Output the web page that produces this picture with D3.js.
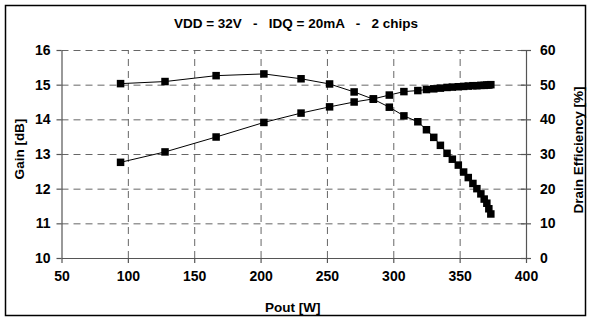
<!DOCTYPE html>
<html>
<head>
<meta charset="utf-8">
<script src="https://cdn.jsdelivr.net/npm/d3@7"></script>
<style>
  body { margin: 0; background: #fff; }
  text { font-family: Arial, 'Liberation Sans', sans-serif; font-weight: bold; fill: #000; }
  .grid line { stroke: #666; stroke-dasharray: 7,5; }
  .grid .domain { display: none; }
  .axis .domain, .axis line { stroke: #555; stroke-width: 1.2; }
</style>
</head>
<body>
<svg width="592" height="322"></svg>
<script>
// measured points (Pout in W, gain in dB, drain efficiency in %)
const pout = [94.5, 128, 166.5, 202.5, 230.5, 252, 270.5, 285, 297, 308, 318.5, 325, 330.5, 335.5,
  340.5, 344.5, 349, 353, 356.5, 360, 363, 366, 368.5, 370.5, 372, 373.5]
const gain = [15.03, 15.09, 15.26, 15.31, 15.17, 15.02, 14.79, 14.58, 14.35, 14.1, 13.93, 13.7, 13.48, 13.25,
  13.02, 12.85, 12.68, 12.48, 12.32, 12.15, 12.0, 11.85, 11.7, 11.58, 11.42, 11.27]
const eff = [27.6, 30.6, 34.9, 39.1, 41.8, 43.6, 45.0, 45.9, 47.0, 48.0, 48.3, 48.6, 48.8, 49.0,
  49.2, 49.3, 49.4, 49.5, 49.6, 49.7, 49.7, 49.8, 49.8, 49.9, 49.9, 50.0]

const xTicks = [50, 100, 150, 200, 250, 300, 350, 400]
const gainTicks = [10, 11, 12, 13, 14, 15, 16]
const effTicks = [0, 10, 20, 30, 40, 50, 60]

let svg = d3.select('svg')
let margin = {top: 50, left: 61.5, right: 66, bottom: 64}
let width = 592 - margin.left - margin.right
let height = 322 - margin.top - margin.bottom

// outer frame
svg.append('rect')
  .attr('x', 5.5).attr('y', 5.5)
  .attr('width', 580).attr('height', 310)
  .attr('fill', 'none').attr('stroke', '#000').attr('stroke-width', 1.5)

svg.append('text')
  .attr('x', 296).attr('y', 28)
  .attr('text-anchor', 'middle')
  .style('font-size', '13.5px')
  .attr('xml:space', 'preserve')
  .text('VDD = 32V   -   IDQ = 20mA   -   2 chips')

let x = d3.scaleLinear().domain([50, 400]).range([0, width])
let yG = d3.scaleLinear().domain([10, 16]).range([height, 0])
let yE = d3.scaleLinear().domain([0, 60]).range([height, 0])

let g = svg.append('g')
  .attr('transform', 'translate(' + margin.left + ',' + margin.top + ')')

// dashed gridlines
g.append('g')
  .attr('class', 'grid')
  .call(d3.axisLeft(yG).tickValues(gainTicks.slice(1)).tickSize(-width).tickFormat(''))
g.append('g')
  .attr('class', 'grid')
  .attr('transform', 'translate(0,' + height + ')')
  .call(d3.axisBottom(x).tickValues(xTicks.slice(1, -1)).tickSize(-height).tickFormat(''))

// axes
let fmt = d3.format('d')
let leftAxis = g.append('g')
  .attr('class', 'axis')
  .call(d3.axisLeft(yG).tickValues(gainTicks).tickFormat(fmt).tickSize(5).tickSizeOuter(0).tickPadding(6))
let bottomAxis = g.append('g')
  .attr('class', 'axis')
  .attr('transform', 'translate(0,' + height + ')')
  .call(d3.axisBottom(x).tickValues(xTicks).tickFormat(fmt).tickSize(5).tickSizeOuter(0).tickPadding(8))
let rightAxis = g.append('g')
  .attr('class', 'axis')
  .attr('transform', 'translate(' + width + ',0)')
  .call(d3.axisRight(yE).tickValues(effTicks).tickFormat(fmt).tickSize(5).tickSizeOuter(0).tickPadding(9))
// right ticks cross the axis line
rightAxis.selectAll('.tick line').attr('x1', -5)

;[leftAxis, bottomAxis, rightAxis].forEach(a => a.selectAll('text').style('font-size', '14px'))

// axis titles
g.append('text')
  .attr('transform', 'translate(-38,' + (height / 2 - 5) + ') rotate(-90)')
  .attr('text-anchor', 'middle')
  .style('font-size', '13.5px')
  .text('Gain [dB]')
g.append('text')
  .attr('transform', 'translate(' + (width + 57) + ',' + (height / 2 - 4) + ') rotate(-90)')
  .attr('text-anchor', 'middle')
  .style('font-size', '13.5px')
  .text('Drain Efficiency [%]')
g.append('text')
  .attr('x', width / 2 - 1).attr('y', height + 54)
  .attr('text-anchor', 'middle')
  .style('font-size', '13.5px')
  .text('Pout [W]')

// series
let series = [
  {vals: gain, y: yG},
  {vals: eff, y: yE}
]
series.forEach(s => {
  let d = pout.map((p, i) => ({x: p, y: s.vals[i]}))
  g.append('path').datum(d)
    .attr('fill', 'none')
    .attr('stroke', '#000')
    .attr('stroke-width', 1)
    .attr('d', d3.line().x(v => x(v.x)).y(v => s.y(v.y)))
  g.append('g').selectAll('rect').data(d).enter().append('rect')
    .attr('x', v => x(v.x) - 3.75)
    .attr('y', v => s.y(v.y) - 3.75)
    .attr('width', 7.5).attr('height', 7.5)
    .attr('fill', '#000')
})
</script>
</body>
</html>
